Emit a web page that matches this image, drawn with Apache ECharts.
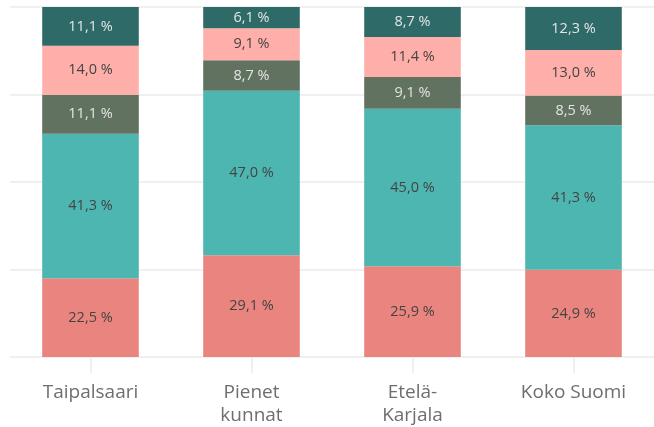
<!DOCTYPE html>
<html>
<head>
<meta charset="utf-8">
<script src="https://cdn.jsdelivr.net/npm/echarts@6/dist/echarts.min.js"></script>
<style>
	html, body { margin: 0; padding: 0; background: #fff; }
	#chart { width: 654px; height: 427px; }
</style>
</head>
<body>
<div id="chart"></div>
<script>
// kategoriat
var categories = ['Taipalsaari', 'Pienet\nkunnat', 'Etelä-\nKarjala', 'Koko Suomi'];
// sarjat alhaalta ylös
var s1 = [22.5, 29.1, 25.9, 24.9];
var s2 = [41.3, 47.0, 45.0, 41.3];
var s3 = [11.1, 8.7, 9.1, 8.5];
var s4 = [14.0, 9.1, 11.4, 13.0];
var s5 = [11.1, 6.1, 8.7, 12.3];
var yTicks = [0, 25, 50, 75, 100];

var colors = ['#ea847e', '#4db6b1', '#627260', '#ffafa9', '#2e6b68'];
var labelColors = ['#444444', '#444444', '#e4e4e4', '#444444', '#e4e4e4'];
var seriesData = [s1, s2, s3, s4, s5];

function fmt(p) {
	return p.value.toFixed(1).replace('.', ',') + ' %';
}

var chart = echarts.init(document.getElementById('chart'));
var series = [];
for (var i = 0; i < seriesData.length; i++) {
	series.push({
		type: 'bar',
		stack: 'all',
		barWidth: '60%',
		data: seriesData[i],
		itemStyle: { color: colors[i] },
		label: {
			show: true,
			position: 'inside',
			formatter: fmt,
			color: labelColors[i],
			fontFamily: 'Open Sans',
			fontSize: 14.5
		}
	});
}

var option = {
	animation: false,
	grid: { left: 10, right: -4, top: 7, bottom: 70 },
	xAxis: {
		type: 'category',
		data: categories,
		axisLine: { show: true, lineStyle: { color: '#f0f0f0', width: 1 } },
		axisTick: { show: true, alignWithLabel: true, length: 16, lineStyle: { color: '#f0f0f0', width: 2 } },
		splitLine: { show: false },
		axisLabel: {
			color: '#6e6e6e',
			fontFamily: 'Open Sans',
			fontSize: 19,
			lineHeight: 23,
			margin: 24
		}
	},
	yAxis: {
		type: 'value',
		min: yTicks[0],
		max: yTicks[yTicks.length - 1],
		interval: 25,
		axisLabel: { show: false },
		axisLine: { show: false },
		axisTick: { show: false },
		splitLine: { lineStyle: { color: '#f0f0f0', width: 2 } }
	},
	series: series
};
chart.setOption(option);
</script>
</body>
</html>
